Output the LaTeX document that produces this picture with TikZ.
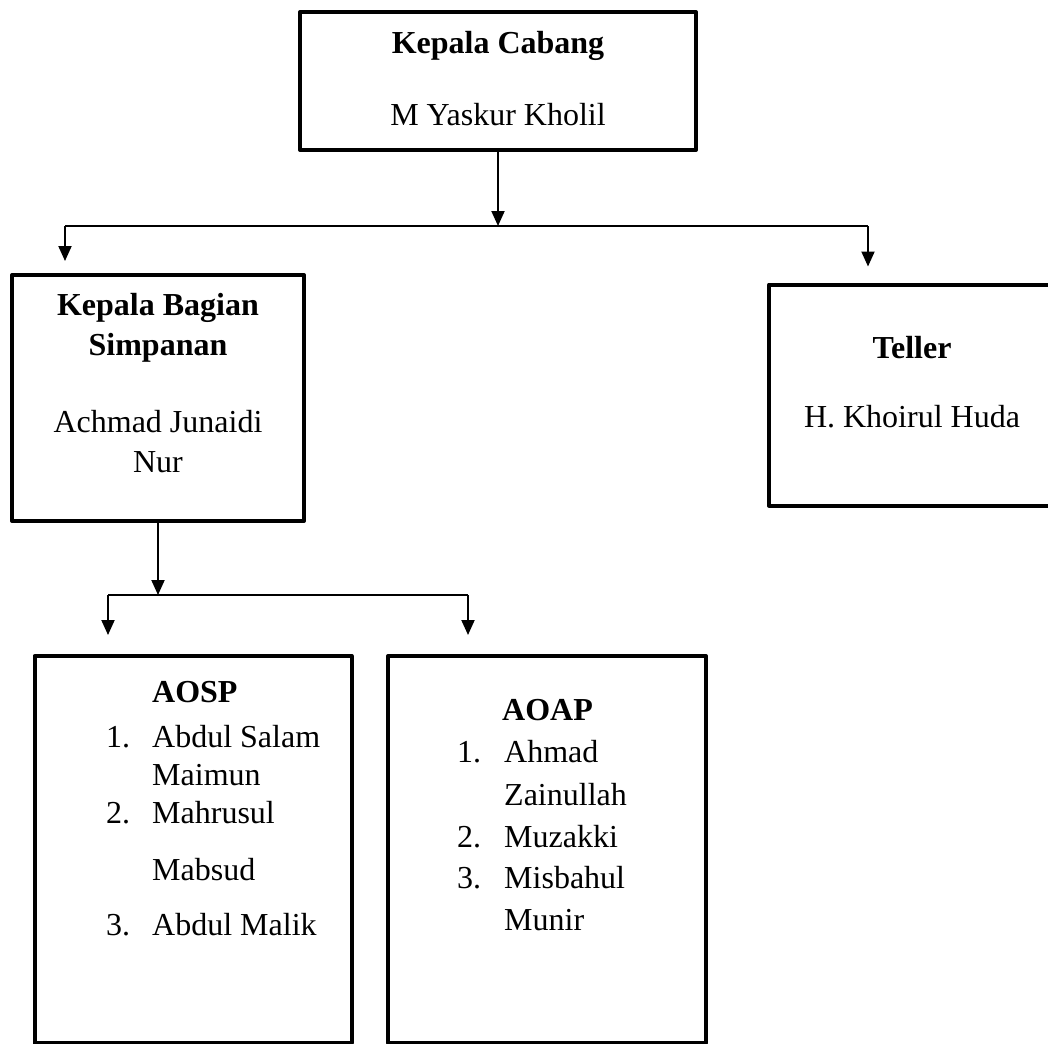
\documentclass[tikz,border=0pt]{standalone}
\usepackage{fontspec}
\setmainfont{Liberation Serif}
\usepackage{tikz}
\usetikzlibrary{positioning, arrows.meta}
\tikzset{
    orgbox/.style={draw, line width=4pt, line join=round, rectangle, inner sep=0pt},
    teks/.style={font=\fontsize{32}{40}\selectfont, inner sep=0pt, align=center},
    jabatan/.style={teks, font=\fontsize{32}{40}\selectfont\bfseries},
    nomor/.style={teks, anchor=west},
    anggota/.style={teks, anchor=west},
    garis/.style={line width=2pt},
    panah/.style={garis, -{Triangle[width=13pt, length=15pt]}}
}

\begin{document}
\begin{tikzpicture}[x=1pt, y=-1pt]
                \clip (0,0) rectangle (1048,1043);

                % Kotak jabatan
                \node[orgbox, minimum width=396pt, minimum height=138pt] (cabang) at (498,81) {};
                \node[orgbox, minimum width=292pt, minimum height=246pt] (bagian) at (158,398) {};
                \node[orgbox, minimum width=286pt, minimum height=221pt] (teller) at (912,395) {};
                \node[orgbox, minimum width=317pt, minimum height=387pt] (aosp) at (193,849.5) {};
                \node[orgbox, minimum width=318pt, minimum height=387pt] (aoap) at (547,849.5) {};

                % Nama jabatan dan pejabat
                \node[jabatan] (cabangjudul) at (498,46) {Kepala Cabang};
                \node[teks] (cabangnama) at (498,115) {M Yaskur Kholil};
                \node[jabatan] (bagianjudul) at (158,328) {Kepala Bagian\\Simpanan};
                \node[teks] (bagiannama) at (158,442) {Achmad Junaidi\\Nur};
                \node[jabatan] (tellerjudul) at (912,348) {Teller};
                \node[teks] (tellernama) at (912,417) {H. Khoirul Huda};

                % Daftar AOSP
                \node[jabatan, anchor=west] (aospjudul) at (152,692) {AOSP};
                \foreach \y/\isi [count=\i] in {737/Abdul Salam, 775/Maimun, 813/Mahrusul, 870/Mabsud, 925/Abdul Malik}
                    \node[anggota] (aosp\i) at (152,\y) {\isi};
                \foreach \y/\no [count=\i] in {737/1., 813/2., 925/3.}
                    \node[nomor] (aospno\i) at (106,\y) {\no};

                % Daftar AOAP
                \node[jabatan, anchor=west] (aoapjudul) at (502,710) {AOAP};
                \foreach \y/\isi [count=\i] in {752/Ahmad, 795/Zainullah, 837/Muzakki, 878/Misbahul, 920/Munir}
                    \node[anggota] (aoap\i) at (504,\y) {\isi};
                \foreach \y/\no [count=\i] in {752/1., 837/2., 878/3.}
                    \node[nomor] (aoapno\i) at (457,\y) {\no};

                % Garis penghubung atas
                \coordinate (busatasL) at (65,226);
                \coordinate (busatasR) at (868,226);
                \draw[garis] (busatasL) -- (busatasR);
                \draw[panah] (cabang.south) -- (cabang.south |- busatasL);
                \draw[panah, shorten >=12pt] (busatasL) -- (busatasL |- bagian.north);
                \draw[panah, shorten >=16pt] (busatasR) -- (busatasR |- teller.north);

                % Garis penghubung bawah
                \coordinate (busbawahL) at (108,595);
                \coordinate (busbawahR) at (468,595);
                \draw[garis] (busbawahL) -- (busbawahR);
                \draw[panah] (bagian.south) -- (bagian.south |- busbawahL);
                \draw[panah, shorten >=19pt] (busbawahL) -- (busbawahL |- aosp.north);
                \draw[panah, shorten >=19pt] (busbawahR) -- (busbawahR |- aoap.north);

            \end{tikzpicture}
\end{document}
